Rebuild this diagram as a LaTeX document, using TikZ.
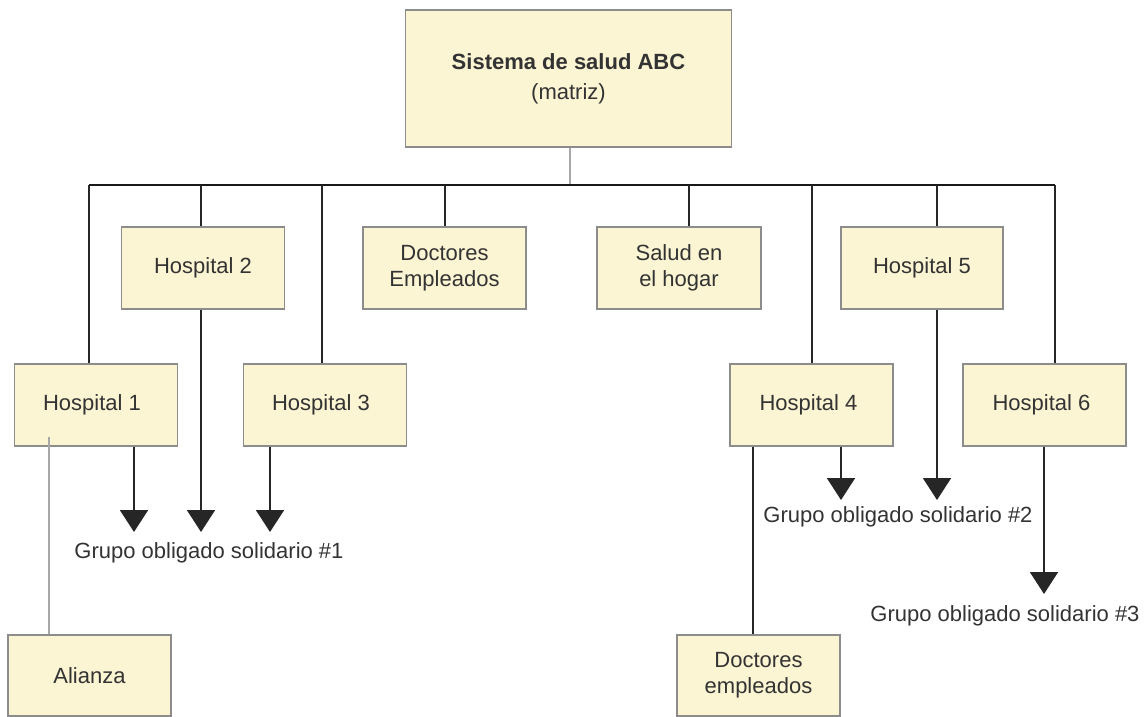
\documentclass[tikz,border=0pt]{standalone}
\usepackage{fontspec}
\setmainfont{Liberation Sans}
\usetikzlibrary{arrows.meta}
\definecolor{boxfill}{HTML}{FBF5D3}
\definecolor{boxline}{HTML}{8C8C8C}
\definecolor{txt}{HTML}{333333}
\definecolor{lightline}{HTML}{A8A8A8}
\tikzset{
  orgbox/.style={draw=boxline, fill=boxfill, line width=1.5pt, text=txt,
    font=\fontsize{22}{26}\selectfont, align=center, inner sep=0pt,
    minimum width=163pt, minimum height=82pt},
  lbl/.style={text=txt, font=\fontsize{22}{26}\selectfont, inner sep=0pt},
  conn/.style={line width=2pt, draw=black!85},
  bus/.style={line width=2.5pt, draw=black!90},
  thin/.style={line width=1.5pt, draw=lightline},
  arr/.style={line width=2pt, draw=black!85, -{Triangle[width=28pt,length=22pt]}}
}
\begin{document}
\begin{tikzpicture}[x=1pt,y=-1pt]
\useasboundingbox (0,0) rectangle (1146,717);
% nodes
\node[orgbox, minimum width=326pt, minimum height=137pt] (top) at (568.5,78.5)
  {\textbf{Sistema de salud ABC}\\[4pt](matriz)};
\node[orgbox] (h2) at (203,268) {Hospital 2};
\node[orgbox] (de) at (444.5,268) {Doctores\\Empleados};
\node[orgbox, minimum width=164pt] (sh) at (679,268) {Salud en\\el hogar};
\node[orgbox, minimum width=162pt] (h5) at (922,268) {Hospital 5};
\node[orgbox] (h1) at (96,405) {Hospital 1\hspace*{8pt}};
\node[orgbox] (h3) at (325,405) {Hospital 3\hspace*{8pt}};
\node[orgbox] (h4) at (811.5,405) {Hospital 4\hspace*{6pt}};
\node[orgbox] (h6) at (1044.5,405) {Hospital 6\hspace*{6pt}};
\node[orgbox, minimum height=81pt] (al) at (89.5,675.5) {Alianza};
\node[orgbox, minimum height=81pt] (dc) at (758.5,675.5) {Doctores\\empleados};
% labels
\node[lbl] (g1) at (209,553) {Grupo obligado solidario \#1};
\node[lbl] (g2) at (898,517) {Grupo obligado solidario \#2};
\node[lbl] (g3) at (1005,616) {Grupo obligado solidario \#3};
% bus coordinates
\coordinate (bm) at (570,185);
\coordinate (b1) at (89,185);
\coordinate (b2) at (201,185);
\coordinate (b3) at (322,185);
\coordinate (b4) at (445,185);
\coordinate (b5) at (689,185);
\coordinate (b6) at (812,185);
\coordinate (b7) at (937,185);
\coordinate (b8) at (1055,185);
% connectors
\draw[thin] (top.south -| bm) -- (bm);
\draw[bus] (b1) -- (b8);
\draw[conn] (b1) -- (h1.north -| b1);
\draw[conn] (b2) -- (h2.north -| b2);
\draw[conn] (b3) -- (h3.north -| b3);
\draw[conn] (b4) -- (de.north -| b4);
\draw[conn] (b5) -- (sh.north -| b5);
\draw[conn] (b6) -- (h4.north -| b6);
\draw[conn] (b7) -- (h5.north -| b7);
\draw[conn] (b8) -- (h6.north -| b8);
% arrows
\coordinate (a1) at (134,532);
\coordinate (a2) at (201,532);
\coordinate (a3) at (270,532);
\coordinate (a4) at (841,500);
\coordinate (a5) at (937,500);
\coordinate (a6) at (1044,594);
\draw[arr] (h1.south -| a1) -- (a1);
\draw[arr] (h2.south -| a2) -- (a2);
\draw[arr] (h3.south -| a3) -- (a3);
\draw[arr] (h4.south -| a4) -- (a4);
\draw[arr] (h5.south -| a5) -- (a5);
\draw[arr] (h6.south -| a6) -- (a6);
% other links
\coordinate (alstart) at (49,437);
\draw[thin] (alstart) -- (al.north -| alstart);
\coordinate (dcx) at (753,0);
\draw[conn, line width=1.5pt] (h4.south -| dcx) -- (dc.north -| dcx);
\end{tikzpicture}
\end{document}
